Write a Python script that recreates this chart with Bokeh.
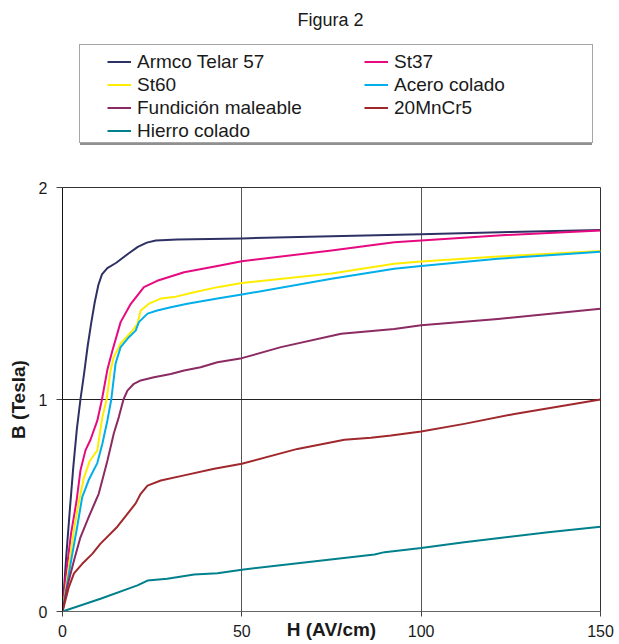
from bokeh.plotting import figure
from bokeh.layouts import column
from bokeh.models import Range1d, FixedTicker, Legend, LegendItem, Label
from bokeh.embed import file_html
from bokeh.resources import INLINE

FONT = "Liberation Sans"

# ---- data (H in AV/cm, B in Tesla) ----
armco_h = [0, 1, 2, 3, 4, 5, 6, 7, 8, 9, 10, 11, 12.5, 15, 18.5, 21, 23.5, 26, 32, 50, 75, 100, 125, 150]
armco_b = [0, 0.25, 0.47, 0.68, 0.86, 1.0, 1.12, 1.25, 1.36, 1.46, 1.54, 1.59, 1.62, 1.645, 1.69, 1.72, 1.74, 1.75, 1.755, 1.76, 1.77, 1.78, 1.79, 1.80]

st37_h = [0, 0.8, 2.4, 3.9, 5.0, 6.4, 7.8, 9.7, 11.0, 12.5, 13.9, 16.2, 19, 22.7, 26.4, 33.9, 43.2, 50, 75, 92.5, 100, 121.4, 150]
st37_b = [0, 0.15, 0.37, 0.52, 0.665, 0.76, 0.81, 0.90, 1.0, 1.14, 1.23, 1.365, 1.45, 1.53, 1.56, 1.60, 1.63, 1.652, 1.703, 1.742, 1.75, 1.774, 1.797]

st60_h = [0, 1.77, 3.35, 4.6, 6.0, 7.6, 9.7, 11.1, 12.3, 13.4, 14.3, 16.2, 19.5, 20.9, 21.8, 24.1, 27.4, 31.1, 36.7, 43.2, 50, 75, 92.5, 100, 121.4, 150]
st60_b = [0, 0.21, 0.40, 0.52, 0.633, 0.71, 0.76, 0.915, 1.0, 1.137, 1.2, 1.264, 1.325, 1.357, 1.42, 1.452, 1.476, 1.483, 1.506, 1.53, 1.55, 1.594, 1.64, 1.651, 1.674, 1.70]

acero_h = [0, 2.4, 4.1, 5.5, 7.3, 9.7, 11.1, 12.5, 13.6, 14.8, 16.2, 18.5, 20.4, 21.3, 23.7, 26.4, 30.2, 34.8, 43.2, 50, 75, 92.5, 100, 121.4, 150]
acero_b = [0, 0.24, 0.40, 0.54, 0.62, 0.70, 0.79, 0.90, 1.0, 1.17, 1.247, 1.294, 1.325, 1.365, 1.405, 1.42, 1.435, 1.452, 1.476, 1.495, 1.57, 1.617, 1.63, 1.664, 1.697]

fund_h = [0, 1.3, 3.2, 5.0, 7.3, 9.2, 10.1, 12.5, 14.3, 15.7, 17.0, 18.1, 19.9, 21.8, 25.5, 30.2, 33.9, 38.5, 43.2, 50, 60.9, 77.7, 92.5, 100, 121.4, 150]
fund_b = [0, 0.115, 0.24, 0.35, 0.445, 0.52, 0.555, 0.71, 0.84, 0.917, 1.0, 1.042, 1.074, 1.09, 1.105, 1.12, 1.137, 1.152, 1.176, 1.195, 1.247, 1.31, 1.333, 1.35, 1.38, 1.428]

mncr_h = [0, 1.77, 3.2, 5.5, 8.3, 10.6, 15.3, 20.4, 21.8, 23.7, 27.4, 33.9, 42.3, 50, 65.5, 78.6, 86, 91.6, 100, 112, 126, 150]
mncr_b = [0, 0.115, 0.18, 0.225, 0.272, 0.32, 0.40, 0.51, 0.555, 0.594, 0.618, 0.642, 0.673, 0.697, 0.767, 0.81, 0.82, 0.83, 0.849, 0.885, 0.932, 1.0]

hierro_h = [0, 10.6, 20.9, 23.7, 29.2, 36.7, 43.2, 50, 87, 89.8, 100, 112, 135.4, 150]
hierro_b = [0, 0.06, 0.123, 0.146, 0.154, 0.175, 0.18, 0.197, 0.269, 0.28, 0.299, 0.327, 0.374, 0.40]

x_ticks = [0, 50, 100, 150]
y_ticks = [0, 1, 2]
title_text = "Figura 2"
x_label = "H (AV/cm)"
y_label = "B (Tesla)"

series = [
    ("Armco Telar 57", armco_h, armco_b, "#2e3164"),
    ("St37", st37_h, st37_b, "#e6097f"),
    ("St60", st60_h, st60_b, "#ffed00"),
    ("Acero colado", acero_h, acero_b, "#00aeea"),
    ("Fundición maleable", fund_h, fund_b, "#8c2a62"),
    ("20MnCr5", mncr_h, mncr_b, "#a0282c"),
    ("Hierro colado", hierro_h, hierro_b, "#00808c"),
]
left_col = ["Armco Telar 57", "St60", "Fundición maleable", "Hierro colado"]
right_col = ["St37", "Acero colado", "20MnCr5"]

W = 615
TOTAL_H = 644
TOP_H = 175

# ---------- header figure (title + legend) ----------
top = figure(width=W, height=TOP_H, output_backend="svg", toolbar_location=None,
             x_range=Range1d(10, 11), y_range=Range1d(10, 11),
             x_axis_location=None, y_axis_location=None, title_location=None,
             min_border_left=62, min_border_right=15, min_border_top=0, min_border_bottom=0)
top.outline_line_color = None
top.xgrid.visible = False
top.ygrid.visible = False
top.background_fill_color = "white"
top.border_fill_color = "white"

# legend proxies (one point each, outside the header's range, never visible)
proxies = {}
for name, hs, bs, color in series:
    proxies[name] = top.line(x=hs[:1], y=bs[:1], line_color=color, line_width=2)
blank = top.line(x=hierro_h[:1], y=hierro_b[:1], line_alpha=0)
shade = top.line(x=hierro_h[:1], y=hierro_b[:1], line_alpha=0)

shadow = Legend(items=[LegendItem(label=" ", renderers=[shade])], location=(18, 30),
                padding=0, margin=0, spacing=0, glyph_width=1, glyph_height=97,
                label_width=511, label_height=97, label_standoff=0,
                border_line_alpha=0,
                background_fill_color="#8f8f8f", background_fill_alpha=1)
top.add_layout(shadow, "center")

box = Legend(items=[LegendItem(label=" ", renderers=[blank])], location=(17, 32),
             padding=0, margin=0, spacing=0, glyph_width=1, glyph_height=97,
             label_width=511, label_height=97, label_standoff=0,
             border_line_color="#4d4d4d", border_line_width=1,
             background_fill_color="white", background_fill_alpha=1)
top.add_layout(box, "center")

def col_legend(names, loc):
    lg = Legend(items=[LegendItem(label=n, renderers=[proxies[n]]) for n in names],
                location=loc, padding=0, margin=0, spacing=0,
                glyph_width=24, glyph_height=23, label_height=23, label_standoff=6,
                label_text_font=FONT, label_text_font_size="19px", label_text_color="#1a1a1a",
                border_line_alpha=0, background_fill_alpha=0)
    top.add_layout(lg, "center")

col_legend(left_col, (45, 33))
col_legend(right_col, (302, 56))

top.add_layout(Label(x=268, y=156, x_units="screen", y_units="screen", text=title_text,
                     text_align="center", text_baseline="alphabetic",
                     text_font=FONT, text_font_size="18px", text_color="#1a1a1a"))

# ---------- main chart ----------
p = figure(width=W, height=TOTAL_H - TOP_H, output_backend="svg", toolbar_location=None,
           x_range=Range1d(0, 150), y_range=Range1d(0, 2), title_location=None,
           min_border_left=62, min_border_right=15, min_border_top=12,
           min_border_bottom=TOTAL_H - TOP_H - 12 - 424)
p.background_fill_color = "white"
p.border_fill_color = "white"
p.outline_line_color = "#333333"
p.outline_line_width = 1

p.xaxis.ticker = FixedTicker(ticks=x_ticks)
p.yaxis.ticker = FixedTicker(ticks=y_ticks)
for ax in (p.xaxis, p.yaxis):
    ax.major_tick_in = 0
    ax.minor_tick_in = 0
    ax.minor_tick_out = 0
    ax.major_label_text_font = FONT
    ax.major_label_text_font_size = "16px"
    ax.major_label_text_color = "#1a1a1a"
    ax.major_tick_line_color = "#444444"
    ax.axis_label_text_font = FONT
    ax.axis_label_text_font_size = "19px"
    ax.axis_label_text_font_style = "bold"
    ax.axis_label_text_color = "#1a1a1a"
p.xaxis.major_tick_out = 5
p.yaxis.major_tick_out = 6
p.xaxis.major_label_standoff = 8
p.yaxis.major_label_standoff = 9
p.xaxis.axis_line_color = "#666666"
p.yaxis.axis_line_color = "#111111"
p.yaxis.axis_label = y_label
p.yaxis.axis_label_standoff = 7
p.xaxis.axis_label = x_label
p.xaxis.axis_label_standoff = -21

p.xgrid.ticker = FixedTicker(ticks=[50, 100])
p.xgrid.grid_line_color = "#555555"
p.xgrid.grid_line_width = 1
p.ygrid.ticker = FixedTicker(ticks=[1])
p.ygrid.grid_line_color = "#222222"
p.ygrid.grid_line_width = 1

for name, hs, bs, color in series:
    p.line(hs, bs, line_color=color, line_width=2, line_join="round")

layout = column(top, p, spacing=0)
open("out.html", "w").write(file_html(layout, INLINE))
